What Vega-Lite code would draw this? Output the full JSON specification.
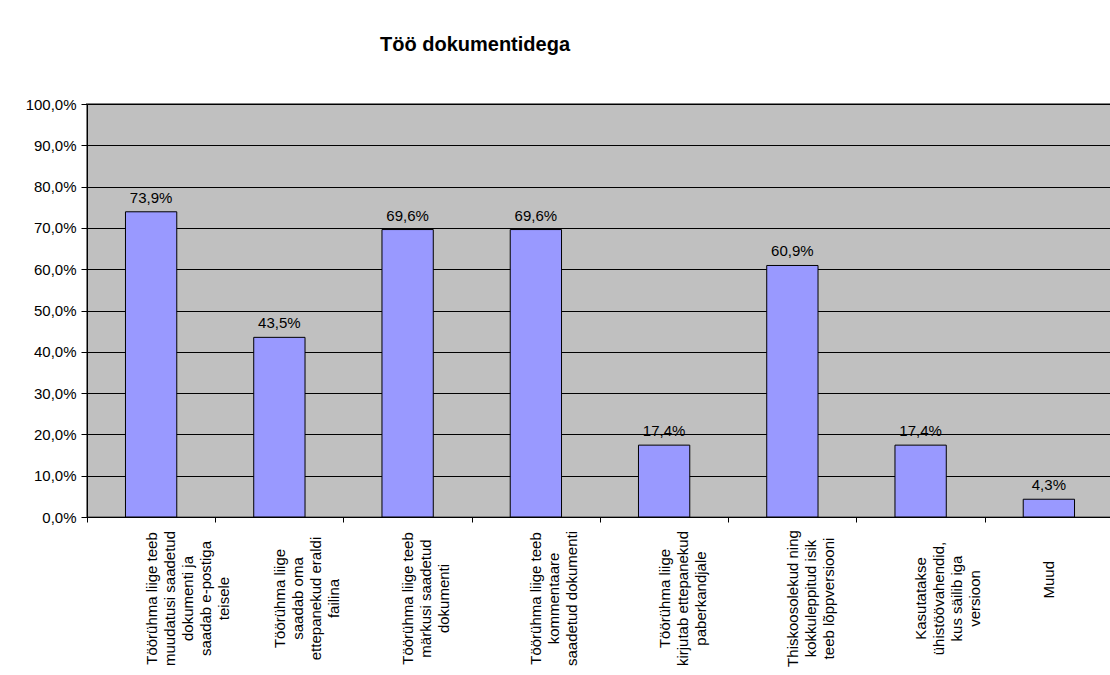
{
  "$schema": "https://vega.github.io/schema/vega-lite/v6.json",
  "width": 1026,
  "height": 413,
  "autosize": {"type": "none"},
  "padding": {"left": 87, "top": 104, "right": 0, "bottom": 158},
  "background": "white",
  "title": {
    "text": "Töö dokumentidega",
    "font": "Liberation Sans",
    "fontSize": 20,
    "fontWeight": "bold",
    "color": "black",
    "anchor": "middle",
    "dx": -125,
    "offset": 26,
    "baseline": "alphabetic"
  },
  "data": {
    "values": [
      {"kategooria": "Töörühma liige teeb|muudatusi saadetud|dokumenti ja|saadab e-postiga|teisele", "osakaal": 0.739},
      {"kategooria": "Töörühma liige|saadab oma|ettepanekud eraldi|failina", "osakaal": 0.435},
      {"kategooria": "Töörühma liige teeb|märkusi saadetud|dokumenti", "osakaal": 0.696},
      {"kategooria": "Töörühma liige teeb|kommentaare|saadetud dokumenti", "osakaal": 0.696},
      {"kategooria": "Töörühma liige|kirjutab ettepanekud|paberkandjale", "osakaal": 0.174},
      {"kategooria": "Thiskoosolekud ning|kokkuleppitud isik|teeb lõppversiooni", "osakaal": 0.609},
      {"kategooria": "Kasutatakse|ühistöövahendid,|kus säilib iga|versioon", "osakaal": 0.174},
      {"kategooria": "Muud", "osakaal": 0.043}
    ]
  },
  "encoding": {
    "x": {
      "field": "kategooria",
      "type": "nominal",
      "sort": null,
      "scale": {"paddingInner": 0.6, "paddingOuter": 0.3},
      "axis": {
        "title": null,
        "labelAngle": -90,
        "labelExpr": "split(datum.label, '|')",
        "labelAlign": {"condition": {"test": "datum.value == 'Muud'", "value": "left"}, "value": "center"},
        "labelBaseline": "middle",
        "labelLineHeight": 18,
        "labelFont": "Liberation Sans",
        "labelFontSize": 15,
        "labelColor": "black",
        "labelLimit": 0,
        "labelOverlap": false,
        "labelPadding": 76,
        "tickOffset": -64.125,
        "labelOffset": 64.125,
        "tickSize": 5,
        "tickColor": "black",
        "domainColor": "black",
        "grid": false
      }
    },
    "y": {
      "field": "osakaal",
      "type": "quantitative",
      "scale": {"domain": [0, 1]},
      "axis": {
        "title": null,
        "values": [0, 0.1, 0.2, 0.3, 0.4, 0.5, 0.6, 0.7, 0.8, 0.9, 1],
        "format": ".1%",
        "labelFont": "Liberation Sans",
        "labelFontSize": 15,
        "labelColor": "black",
        "labelPadding": 5,
        "tickSize": 6,
        "tickColor": "black",
        "domainColor": "black",
        "grid": true,
        "gridColor": "black",
        "gridOpacity": 1
      }
    }
  },
  "layer": [
    {"mark": {"type": "bar", "fill": "#9999FF", "stroke": "black", "strokeWidth": 1}},
    {
      "mark": {"type": "text", "dy": -9, "baseline": "alphabetic", "align": "center", "font": "Liberation Sans", "fontSize": 15, "color": "black"},
      "encoding": {"text": {"field": "osakaal", "type": "quantitative", "format": ".1%"}}
    }
  ],
  "config": {
    "locale": {"number": {"decimal": ",", "thousands": " ", "grouping": [3], "currency": ["", " €"]}},
    "view": {"fill": "#C0C0C0", "stroke": "#808080", "strokeWidth": 2}
  }
}
